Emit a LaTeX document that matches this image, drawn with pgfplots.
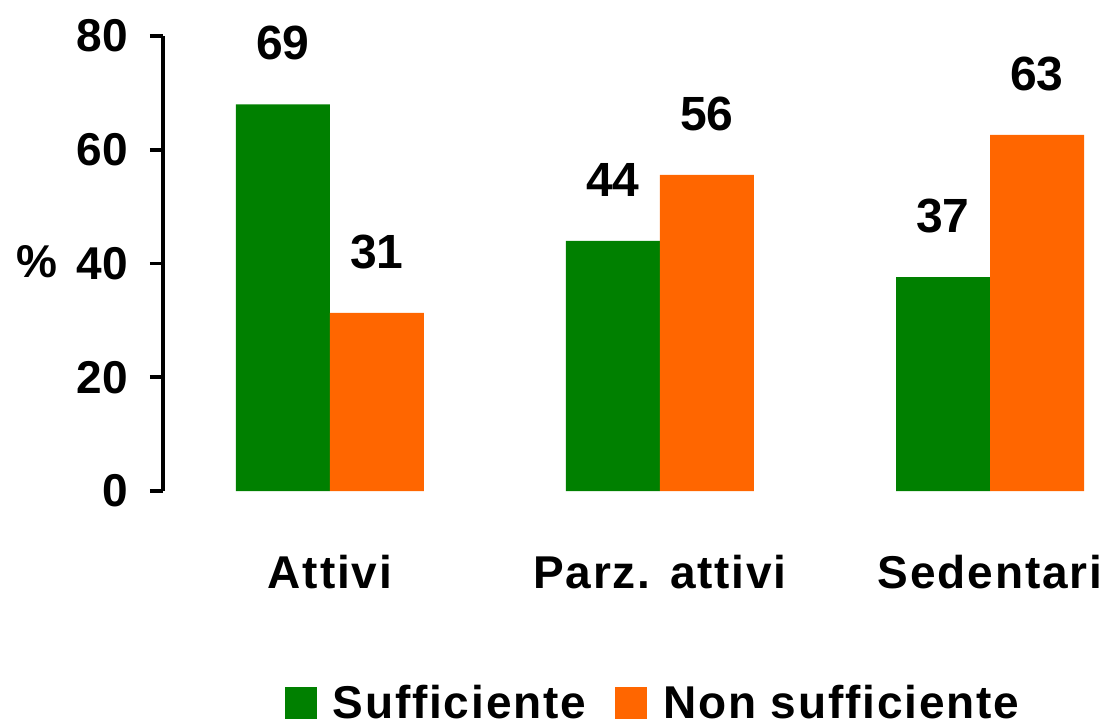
\documentclass[border=0pt]{standalone}
\usepackage{fontspec}
\setmainfont{Liberation Sans}
\newfontfamily\spaced{Liberation Sans}[LetterSpace=4]
\usepackage{pgfplots}
\pgfplotsset{compat=1.18}
\definecolor{cg}{HTML}{008000}
\definecolor{co}{HTML}{FF6600}
\begin{document}
\begin{tikzpicture}
\begin{axis}[
  name=ax,
  scale only axis,
  width=463pt, height=227.5pt,
  xmin=-0.506, xmax=2.3,
  ymin=0, ymax=80,
  axis x line*=bottom, axis y line*=left,
  x axis line style={draw=none},
  y axis line style={line width=1.8pt},
  ybar=0pt, bar width=47pt,
  xtick={0,1,2},
  xticklabels={Attivi, Parz. attivi, Sedentari},
  xtick style={draw=none},
  ytick={0,20,40,60,80},
  ytick style={line width=1.8pt, black},
  tick align=outside,
  major tick length=6.5pt,
  /pgf/number format/assume math mode=true,
  yticklabel style={font=\bfseries\fontsize{23}{27}\selectfont, inner sep=0pt, xshift=-11pt},
  xticklabel style={font=\spaced\bfseries\fontsize{23}{27}\selectfont, anchor=base, inner sep=0pt, yshift=-42pt},
  nodes near coords, point meta=explicit symbolic,
  nodes near coords style={font=\bfseries\fontsize{24}{28}\selectfont, anchor=center, yshift=30.5pt, inner sep=0pt},
  legend columns=2,
  legend cell align=left,
  legend style={draw=none, fill=none, at={(0.528,-0.464)}, anchor=center,
    column sep=8pt, inner sep=0pt, outer sep=0pt,
    nodes={inner sep=0pt, text height=16.5pt, text depth=0pt, font=\spaced\bfseries\fontsize{23}{27}\selectfont},
    /tikz/every even column/.append style={column sep=14.5pt}},
  clip=false,
]
\addplot[fill=cg, draw=none, legend image code/.code={\fill[cg] (0pt,-8.75pt) rectangle (16pt,7.25pt);}]
  coordinates {(0,68.0) [69] (1,44.0) [44] (2,37.6) [37]};
\addplot[fill=co, draw=none, legend image code/.code={\fill[co] (0pt,-8.75pt) rectangle (16pt,7.25pt);}]
  coordinates {(0,31.3) [31] (1,55.6) [56] (2,62.6) [63]};
\legend{Sufficiente, Non sufficiente}
\node[anchor=base east, inner sep=0pt, font=\bfseries\fontsize{23}{27}\selectfont, xshift=-52.5pt] at (rel axis cs:0,0.4703) {\%};
\end{axis}
\pgfresetboundingbox
\path[use as bounding box] (ax.south west) ++(-81.5pt,-117pt) rectangle ++(557.5pt,362.5pt);
\end{tikzpicture}
\end{document}
